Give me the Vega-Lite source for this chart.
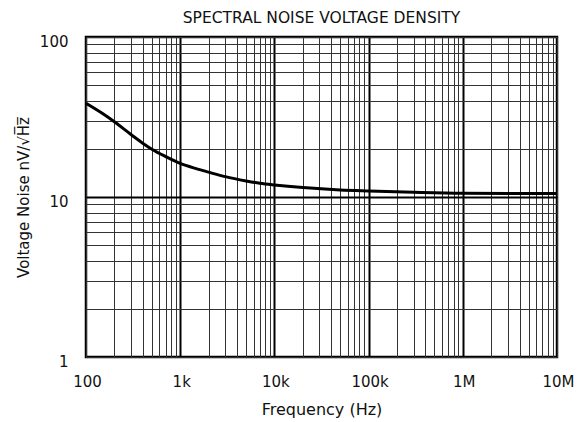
{
  "$schema": "https://vega.github.io/schema/vega-lite/v6.json",
  "width": 471,
  "height": 320,
  "autosize": {"type": "none"},
  "padding": {"left": 86, "top": 37, "right": 26, "bottom": 65},
  "background": "white",
  "config": {
    "font": "DejaVu Sans",
    "view": {"stroke": "black", "strokeWidth": 2.5},
    "axis": {"labelFont": "DejaVu Sans", "titleFont": "DejaVu Sans", "labelColor": "#111", "titleColor": "#111"}
  },
  "title": {"text": "SPECTRAL NOISE VOLTAGE DENSITY", "fontSize": 15.5, "fontWeight": "normal", "color": "#111", "offset": 8, "font": "DejaVu Sans"},
  "data": {"values": [
    {"f": 100, "v": 38.5},
    {"f": 150, "v": 33.2},
    {"f": 200, "v": 29.5},
    {"f": 300, "v": 24.6},
    {"f": 400, "v": 21.7},
    {"f": 500, "v": 19.9},
    {"f": 700, "v": 17.9},
    {"f": 1000, "v": 16.2},
    {"f": 1500, "v": 15.0},
    {"f": 2000, "v": 14.3},
    {"f": 3000, "v": 13.4},
    {"f": 5000, "v": 12.6},
    {"f": 7000, "v": 12.2},
    {"f": 10000, "v": 11.9},
    {"f": 20000, "v": 11.45},
    {"f": 50000, "v": 11.06},
    {"f": 100000, "v": 10.9},
    {"f": 300000, "v": 10.7},
    {"f": 1000000, "v": 10.55},
    {"f": 10000000, "v": 10.5}
  ]},
  "mark": {"type": "line", "color": "black", "strokeWidth": 3, "interpolate": "monotone", "clip": true},
  "encoding": {
    "x": {
      "field": "f", "type": "quantitative",
      "scale": {"type": "log", "domain": [100, 10000000], "nice": false},
      "axis": {
        "title": "Frequency (Hz)", "titleFontSize": 16, "titleFontWeight": "normal", "titlePadding": 12,
        "labelFontSize": 15, "labelPadding": 17, "labelFlush": false, "labelOffset": 1, "ticks": false, "domain": false,
        "values": [100,200,300,400,500,600,700,800,900,1000,2000,3000,4000,5000,6000,7000,8000,9000,10000,20000,30000,40000,50000,60000,70000,80000,90000,100000,200000,300000,400000,500000,600000,700000,800000,900000,1000000,2000000,3000000,4000000,5000000,6000000,7000000,8000000,9000000,10000000],
        "labelExpr": "datum.value == 100 ? '100' : datum.value == 1000 ? '1k' : datum.value == 10000 ? '10k' : datum.value == 100000 ? '100k' : datum.value == 1000000 ? '1M' : datum.value == 10000000 ? '10M' : ''",
        "labelOverlap": false,
        "grid": true,
        "gridColor": {"condition": {"test": "datum.value == 1000 || datum.value == 10000 || datum.value == 100000 || datum.value == 1000000", "value": "black"}, "value": "#333"},
        "gridWidth": {"condition": {"test": "datum.value == 1000 || datum.value == 10000 || datum.value == 100000 || datum.value == 1000000", "value": 2}, "value": 1},
        "gridOpacity": 1
      }
    },
    "y": {
      "field": "v", "type": "quantitative",
      "scale": {"type": "log", "domain": [1, 100], "nice": false},
      "axis": {
        "title": "Voltage Noise nV/√H̅z̅", "titleFontSize": 15, "titleFontWeight": "normal", "titlePadding": 8,
        "labelFontSize": 15, "labelPadding": 18, "labelFlush": false, "labelOffset": 4, "ticks": false, "domain": false,
        "values": [1,2,3,4,5,6,7,8,9,10,20,30,40,50,60,70,80,90,100],
        "labelExpr": "datum.value == 1 ? '1' : datum.value == 10 ? '10' : datum.value == 100 ? '100' : ''",
        "labelOverlap": false,
        "grid": true,
        "gridColor": {"condition": {"test": "datum.value == 10", "value": "black"}, "value": "#333"},
        "gridWidth": {"condition": {"test": "datum.value == 10", "value": 2}, "value": 1},
        "gridOpacity": 1
      }
    }
  }
}
